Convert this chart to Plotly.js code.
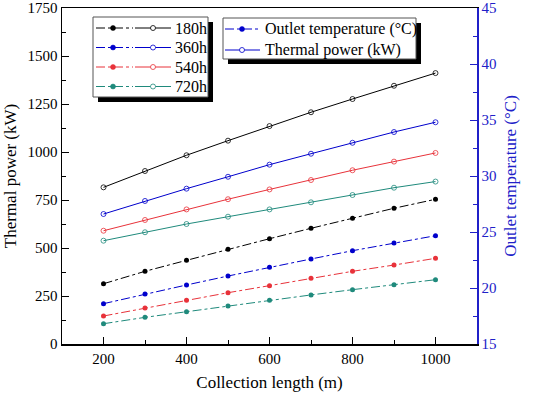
<!DOCTYPE html>
<html><head><meta charset="utf-8">
<script src="https://cdn.plot.ly/plotly-3.0.1.min.js"></script>
<style>html,body{margin:0;padding:0;background:#fff}#chart{width:535px;height:393px}</style>
</head><body><div id="chart"></div>
<script>
const lengths = [200, 300, 400, 500, 600, 700, 800, 900, 1000];
const hours = ['180h', '360h', '540h', '720h'];
const power180 = [816, 901, 983, 1059, 1135, 1207, 1276, 1345, 1411];
const power360 = [677, 745, 809, 871, 934, 991, 1048, 1104, 1155];
const power540 = [590, 646, 701, 754, 805, 854, 905, 950, 995];
const power720 = [538, 582, 625, 663, 701, 738, 776, 814, 846];
const temp180 = [20.38, 21.49, 22.47, 23.46, 24.40, 25.33, 26.22, 27.12, 27.92];
const temp360 = [18.60, 19.46, 20.27, 21.07, 21.85, 22.59, 23.33, 24.02, 24.67];
const temp540 = [17.50, 18.21, 18.90, 19.58, 20.21, 20.86, 21.49, 22.05, 22.65];
const temp720 = [16.81, 17.38, 17.88, 18.39, 18.90, 19.38, 19.85, 20.29, 20.74];
const colors = ['#000000', '#0000cc', '#e8323a', '#1f8a7c'];

const powers = [power180, power360, power540, power720];
const temps = [temp180, temp360, temp540, temp720];
const FONT = '"Liberation Serif", "Times New Roman", serif';
const BLUE = '#2020c8';

const traces = [];
for (let i = 0; i < 4; i++) {
  traces.push({x: lengths, y: powers[i], type: 'scatter', mode: 'lines+markers', yaxis: 'y',
    line: {color: colors[i], width: 1},
    marker: {symbol: 'circle-open', size: 5, color: colors[i], line: {width: 0.8, color: colors[i]}},
    showlegend: false, hoverinfo: 'skip'});
  traces.push({x: lengths, y: temps[i], type: 'scatter', mode: 'lines+markers', yaxis: 'y2',
    line: {color: colors[i], width: 1, dash: 'dashdot'},
    marker: {symbol: 'circle', size: 5, color: colors[i]},
    showlegend: false, hoverinfo: 'skip'});
}

// legend helpers (pixel -> paper)
const L = 62, R = 477, T = 8, B = 344;
const px = v => (v - L) / (R - L);
const py = v => (B - v) / (B - T);
const shapes = [];
const annotations = [];
function box(x0, y0, x1, y1) {
  shapes.push({type: 'rect', xref: 'paper', yref: 'paper', x0: px(x0 + 5), x1: px(x1 + 5), y0: py(y0 + 5), y1: py(y1 + 5),
    fillcolor: '#000', line: {width: 0}, layer: 'above'});
  shapes.push({type: 'rect', xref: 'paper', yref: 'paper', x0: px(x0), x1: px(x1), y0: py(y0), y1: py(y1),
    fillcolor: '#fff', line: {width: 1, color: '#555'}, layer: 'above'});
}
function seg(x0, x1, y, color, dash) {
  shapes.push({type: 'line', xref: 'paper', yref: 'paper', x0: px(x0), x1: px(x1), y0: py(y), y1: py(y),
    line: {color: color, width: 1, dash: dash}, layer: 'above'});
}
function dot(x, y, color, open) {
  shapes.push({type: 'circle', xref: 'paper', yref: 'paper', xsizemode: 'pixel', ysizemode: 'pixel',
    xanchor: px(x), yanchor: py(y), x0: -2.5, x1: 2.5, y0: -2.5, y1: 2.5,
    fillcolor: open ? '#fff' : color, line: {color: color, width: open ? 0.8 : 0.5}, layer: 'above'});
}
function label(x, y, text) {
  annotations.push({xref: 'paper', yref: 'paper', x: px(x), y: py(y), xanchor: 'left', yanchor: 'middle',
    text: text, showarrow: false, font: {family: FONT, size: 16, color: '#000'}});
}

box(93, 17, 208, 97);
const rowsY = [28, 47.5, 67, 86.5];
for (let i = 0; i < 4; i++) {
  seg(96, 133, rowsY[i], colors[i], 'dashdot');
  dot(113, rowsY[i], colors[i], false);
  seg(135, 171, rowsY[i], colors[i], 'solid');
  dot(153, rowsY[i], colors[i], true);
  label(173, rowsY[i], hours[i]);
}
box(223, 18, 416, 59);
seg(225, 260, 29, '#0000cc', 'dashdot');
dot(242, 29, '#0000cc', false);
label(263, 29, 'Outlet temperature (°C)');
seg(225, 260, 50, '#0000cc', 'solid');
dot(242, 50, '#0000cc', true);
label(263, 50, 'Thermal power (kW)');

const layout = {
  width: 535, height: 393,
  margin: {l: 62, r: 58, t: 8, b: 49},
  paper_bgcolor: '#fff', plot_bgcolor: '#fff',
  font: {family: FONT, size: 15, color: '#000'},
  xaxis: {range: [100, 1100], tick0: 0, dtick: 200, ticks: 'inside', ticklen: 7, tickwidth: 1, tickcolor: '#000',
    showline: true, linecolor: '#000', linewidth: 1.5, mirror: true, showgrid: false, zeroline: false,
    minor: {dtick: 100, ticks: 'inside', ticklen: 4, tickcolor: '#000'},
    tickfont: {family: FONT, size: 15, color: '#000'},
    title: {text: 'Collection length (m)', font: {family: FONT, size: 17, color: '#000'}, standoff: 10}},
  yaxis: {range: [0, 1750], dtick: 250, ticks: 'inside', ticklen: 7, tickcolor: '#000',
    showline: true, linecolor: '#000', linewidth: 1.5, showgrid: false, zeroline: false,
    minor: {dtick: 125, ticks: 'inside', ticklen: 4, tickcolor: '#000'},
    tickfont: {family: FONT, size: 15, color: '#000'},
    title: {text: 'Thermal power (kW)', font: {family: FONT, size: 17, color: '#000'}, standoff: 6}},
  yaxis2: {range: [15, 45], dtick: 5, overlaying: 'y', side: 'right', ticks: 'inside', ticklen: 7, tickcolor: BLUE,
    showline: true, linecolor: BLUE, linewidth: 1.5, showgrid: false, zeroline: false,
    minor: {dtick: 2.5, ticks: 'inside', ticklen: 4, tickcolor: BLUE},
    tickfont: {family: FONT, size: 15, color: BLUE},
    title: {text: 'Outlet temperature (°C)', font: {family: FONT, size: 17, color: BLUE}, standoff: 8}},
  shapes: shapes,
  annotations: annotations,
  showlegend: false
};
Plotly.newPlot('chart', traces, layout, {displayModeBar: false, staticPlot: true});
</script></body></html>
